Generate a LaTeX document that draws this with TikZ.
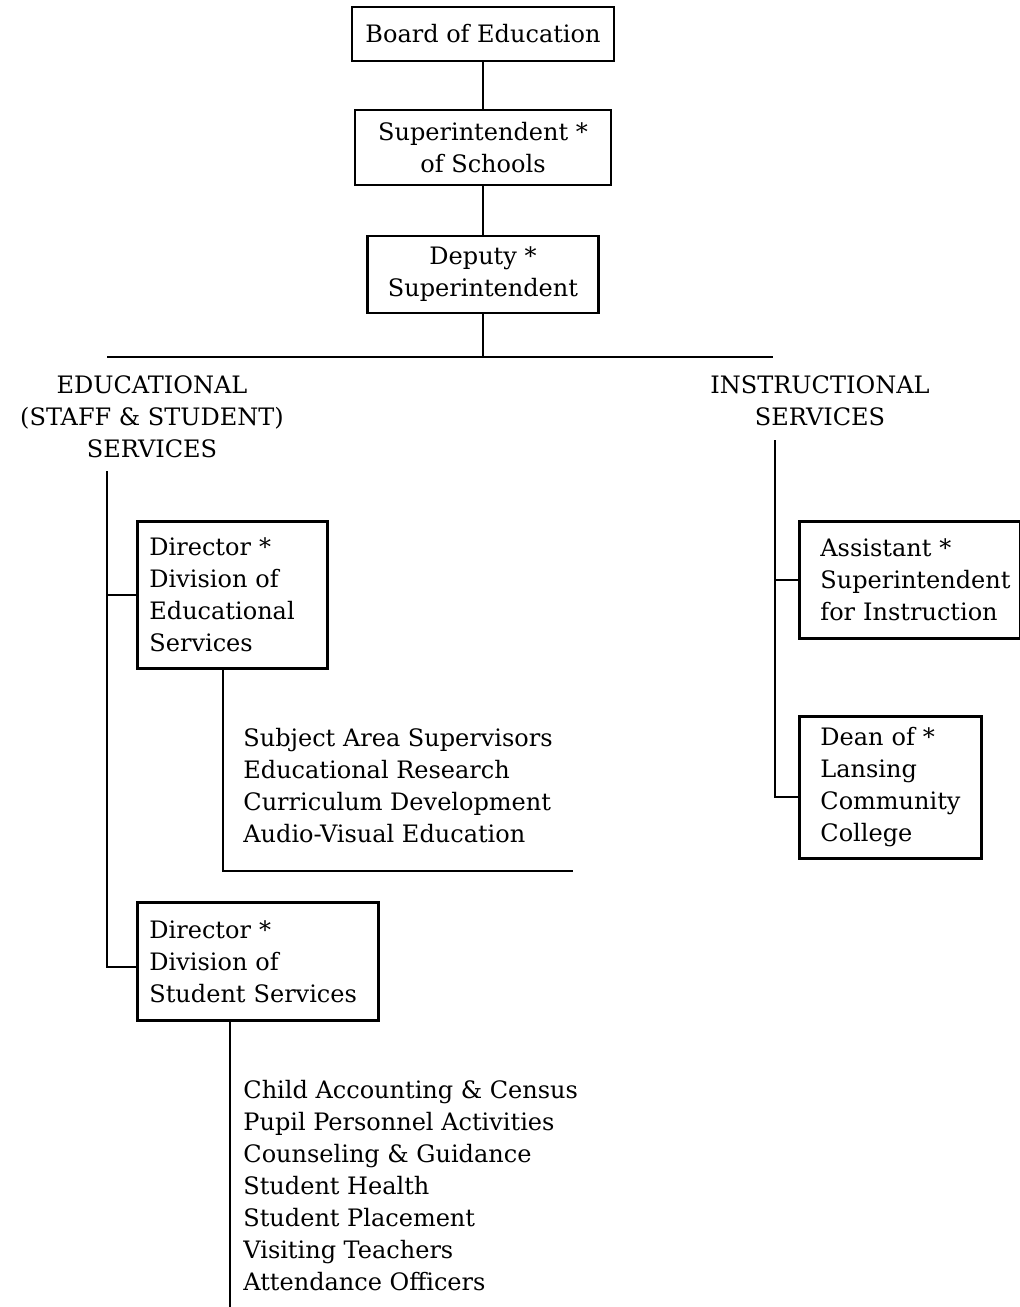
\documentclass[tikz,border=0pt]{standalone}
\usepackage{fontspec}
\setmainfont{DejaVu Serif}
\usetikzlibrary{positioning}

\tikzset{
  orgbox/.style={draw, line width=1.4pt, align=center, inner sep=0pt},
  leftbox/.style={draw, line width=1.4pt, align=left, inner ysep=0pt, anchor=north west},
  heading/.style={align=center, inner sep=0pt},
  duties/.style={align=left, inner sep=0pt, anchor=west},
  link/.style={line width=1.4pt},
}

\begin{document}
\begin{tikzpicture}[x=0.5pt, y=-0.5pt, font=\fontsize{12}{16}\selectfont]
  \useasboundingbox (0,0) rectangle (1020,1307);

  % top of the chart
  \node[orgbox, minimum width=131pt, minimum height=27pt] (board) at (483,34) {Board of Education};
  \node[orgbox, minimum width=128pt, minimum height=37.5pt] (super) at (483,147.5) {Superintendent *\\of Schools};
  \node[orgbox, minimum width=115.5pt, minimum height=38.5pt] (deputy) at (483,274.5) {Deputy *\\Superintendent};

  % the two branches
  \node[heading] (edu) at (152,417) {EDUCATIONAL\\(STAFF \& STUDENT)\\SERVICES};
  \node[heading] (inst) at (820,401) {INSTRUCTIONAL\\SERVICES};

  \node[leftbox, inner xsep=6pt, text width=83pt, minimum height=73.5pt] (dir1) at (136,520) {Director *\\Division of\\Educational\\Services};
  \node[leftbox, inner xsep=6pt, text width=108.5pt, minimum height=59pt] (dir2) at (136,901) {Director *\\Division of\\Student Services};
  \node[leftbox, inner xsep=10.5pt, text width=89.5pt, minimum height=58.5pt] (assist) at (798,520) {Assistant *\\Superintendent\\for Instruction};
  \node[leftbox, inner xsep=10.5pt, text width=70pt, minimum height=71pt] (dean) at (798,715) {Dean of *\\Lansing\\Community\\College};

  \node[duties] (edulist) at (243,786) {Subject Area Supervisors\\Educational Research\\Curriculum Development\\Audio-Visual Education};
  \node[duties] (stulist) at (243,1186) {Child Accounting \& Census\\Pupil Personnel Activities\\Counseling \& Guidance\\Student Health\\Student Placement\\Visiting Teachers\\Attendance Officers};

  % connectors
  \coordinate (barL) at (107,357);
  \coordinate (barR) at (773,357);
  \coordinate (eduspine) at (107,471);
  \coordinate (stujoin) at (107,967);
  \coordinate (edustem) at (223,871);
  \coordinate (eduend) at (573,871);
  \coordinate (stustem) at (230,1307);
  \coordinate (instspine) at (775,440);
  \coordinate (deanjoin) at (775,797);

  \draw[link] (board) -- (super);
  \draw[link] (super) -- (deputy);
  \draw[link] (deputy.south) -- (deputy.south |- barL);
  \draw[link] (barL) -- (barR);
  \draw[link] (eduspine) -- (stujoin) -- (stujoin -| dir2.west);
  \draw[link] (dir1.west -| eduspine) -- (dir1.west);
  \draw[link] (edustem |- dir1.south) -- (edustem) -- (eduend);
  \draw[link] (stustem |- dir2.south) -- (stustem);
  \draw[link] (instspine) -- (deanjoin) -- (deanjoin -| dean.west);
  \draw[link] (assist.west -| instspine) -- (assist.west);
\end{tikzpicture}
\end{document}
